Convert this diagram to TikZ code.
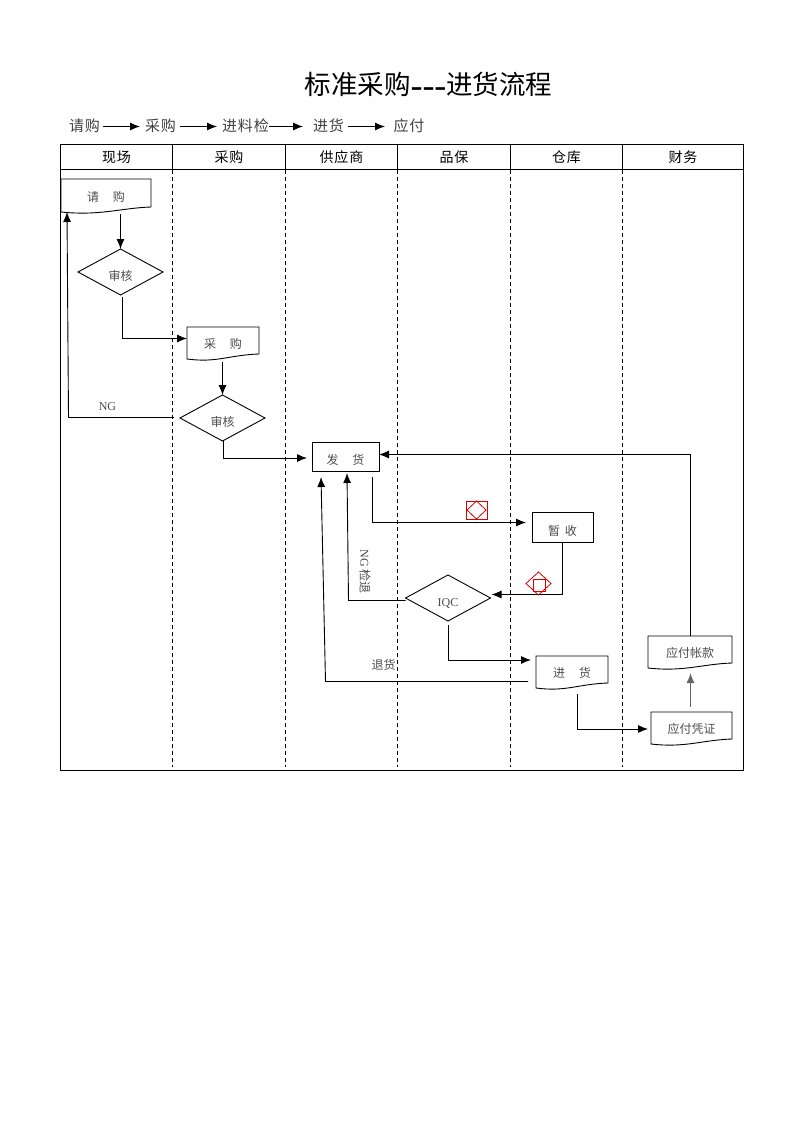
\documentclass[tikz,border=0pt]{standalone}
\usepackage{fontspec}
\setmainfont{Liberation Serif}
\newfontfamily\cjk{Noto Sans CJK SC}
\newfontfamily\cjkwide[LetterSpace=6]{Noto Sans CJK SC}
\usetikzlibrary{arrows.meta,calc,shapes.geometric}
\tikzset{
	flow/.style={line width=0.9pt, -{Latex[length=10pt,width=8pt]}},
	lane/.style={line width=0.8pt, dash pattern=on 4pt off 3pt},
	headtext/.style={font=\cjkwide\fontsize{14}{14}\selectfont, inner sep=0},
	chaintext/.style={font=\cjkwide\fontsize{15}{15}\selectfont, text=black!75, inner sep=0},
	flowtext/.style={font=\cjk\fontsize{12}{12}\selectfont, text=black!70, inner sep=0},
	box/.style={draw, line width=0.9pt, inner sep=0, outer sep=0, font=\cjk\fontsize{12}{12}\selectfont, text=black!70},
	check/.style={draw, diamond, aspect=1.85, line width=0.9pt, inner sep=0, outer sep=0, minimum width=85pt, minimum height=46pt, font=\cjk\fontsize{12}{12}\selectfont, text=black!70},
	redmark/.style={draw=red!85!black, line width=0.8pt, inner sep=0, outer sep=0}
}
\def\low#1{\raisebox{-8pt}[0pt][0pt]{#1}}
% wavy bottomed box: [width, height](name)(x,y){text}
\def\docbox[#1,#2](#3)(#4,#5)#6{
	\node[inner sep=0, outer sep=0, minimum width=#1, minimum height=#2, font=\cjk\fontsize{12}{12}\selectfont, text=black!70] (#3) at (#4,#5) {\low{#6}};
	\draw[line width=0.9pt] (#3.north west) -- (#3.north east) -- (#3.south east) .. controls ($(#3.south east)+(-30,1)$) and ($(#3.south)+(-6,9)$) .. ($(#3.south west)+(0,5)$) -- cycle;
}

\begin{document}
\begin{tikzpicture}[x=1pt, y=-1pt]
		\useasboundingbox (0,0) rectangle (793,1122);
		%%%%% START %%%%%
		
		\node[font=\cjk\fontsize{26.5}{26.5}\selectfont, inner sep=0] (title) at (428.5,85) {标准采购{\rmfamily\fontsize{36}{36}\selectfont\raisebox{-3pt}{-{}-{}-}}进货流程};
		
		\node[chaintext] (c1) at (84.5,126) {请购};
		\node[chaintext] (c2) at (160.5,126) {采购};
		\node[chaintext] (c3) at (245.5,126) {进料检};
		\node[chaintext] (c4) at (328.5,126) {进货};
		\node[chaintext] (c5) at (409,126) {应付};
		\draw[flow] (c1.east) ++(3,0.5) -- (140,126.5);
		\draw[flow] (c2.east) ++(4,0.5) -- (217,126.5);
		\draw[flow] (c3.east) ++(0,0.5) -- (303,126.5);
		\draw[flow] (c4.east) ++(4,0.5) -- (385,126.5);
		
		\draw[line width=1pt] (60.5,144) rectangle (743.5,770);
		\draw[line width=1pt] (60.5,169) -- (743.5,169);
		\foreach \x in {172.5,285.5,397.5,510.5,622.5} {
			\draw[line width=1pt] (\x,144) -- (\x,169);
			\draw[lane] (\x,170) -- (\x,767);
		}
		\node[headtext] (h1) at (116.5,157) {现场};
		\node[headtext] (h2) at (229,157) {采购};
		\node[headtext] (h3) at (341.5,157) {供应商};
		\node[headtext] (h4) at (454,157) {品保};
		\node[headtext] (h5) at (566.5,157) {仓库};
		\node[headtext] (h6) at (683,157) {财务};
		
		\docbox[90pt,28pt](qg)(106,193){请\hspace{14pt}购}
		\node[check] (sh1) at (120.5,272) {\low{审核}};
		\docbox[72pt,27pt](cg)(223,340.5){采\hspace{14pt}购}
		\node[check] (sh2) at (222.5,418) {\low{审核}};
		\node[box, minimum width=67pt, minimum height=29pt] (fh) at (345.5,456.5) {\low{发\hspace{14pt}货}};
		\node[box, minimum width=61pt, minimum height=30pt] (zs) at (562.5,527) {\low{暂\hspace{5pt}收}};
		\node[check] (iqc) at (448,598) {\low{\rmfamily IQC}};
		\docbox[72pt,27pt](jh)(572,669.5){进\hspace{14pt}货}
		\docbox[84pt,27pt](yz)(690,649.5){应付帐款}
		\docbox[81pt,27pt](yp)(691.5,725.5){应付凭证}
		
		\draw[flow] ($(qg.south)+(14.5,7)$) -- (sh1.north);
		\draw[flow] ($(sh1.south)+(2,2)$) |- ($(cg.west)+(0,-2)$);
		\draw[flow] ($(cg.south)+(-0.5,8)$) -- (sh2.north);
		\draw[flow] ($(sh2.south)+(0.5,0)$) |- ($(fh.west)+(-5,1.5)$);
		\draw[flow] ($(sh2.west)+(-6,-0.5)$) -- (68.5,417.5) -- ($(qg.south west)+(6,5)$);
		\draw[flow] ($(yz.north)+(0.5,0)$) |- (fh.east |- 0,454.5);
		\draw[flow] ($(fh.south east)+(-7,6)$) |- ($(zs.west)+(-6,-4.5)$);
		\draw[flow] (zs.south) |- ($(iqc.east)+(1,-3.5)$);
		\draw[flow] ($(iqc.west)+(0,2.5)$) -- (348.5,600.5) -- ($(fh.south)+(1.5,2)$);
		\draw[flow] ($(iqc.south)+(0,4)$) |- ($(jh.west)+(-5,-9.5)$);
		\draw[flow] ($(jh.west)+(-8,12)$) -- (325.5,681.5) -- ($(fh.south west)+(9,6)$);
		\draw[flow] ($(jh.south)+(5,11)$) |- ($(yp.west)+(-3,3.5)$);
		\draw[flow, draw=black!60, line width=1.2pt] ($(yp.north)+(-1,-5)$) -- ($(yz.south)+(0.5,10)$);
		
		\node[flowtext, rotate=-90] (ngback) at (365,571.5) {{\rmfamily NG} 检退};
		\node[flowtext] (ret) at (383.5,665) {退货};
		\node[flowtext] (ng) at (107.5,407) {\rmfamily NG};
		
		\node[redmark, minimum width=21pt, minimum height=18pt] (m1) at (476.5,510) {};
		\node[redmark, diamond, minimum width=19pt, minimum height=18pt, aspect=1] (m1d) at (476.5,510) {};
		\node[redmark, diamond, minimum width=25pt, minimum height=23pt, aspect=1] (m2d) at (538.5,583.5) {};
		\node[redmark, minimum width=12pt, minimum height=12pt] (m2) at (539,585) {};
		
		%%%%% END %%%%%
	\end{tikzpicture}
\end{document}
